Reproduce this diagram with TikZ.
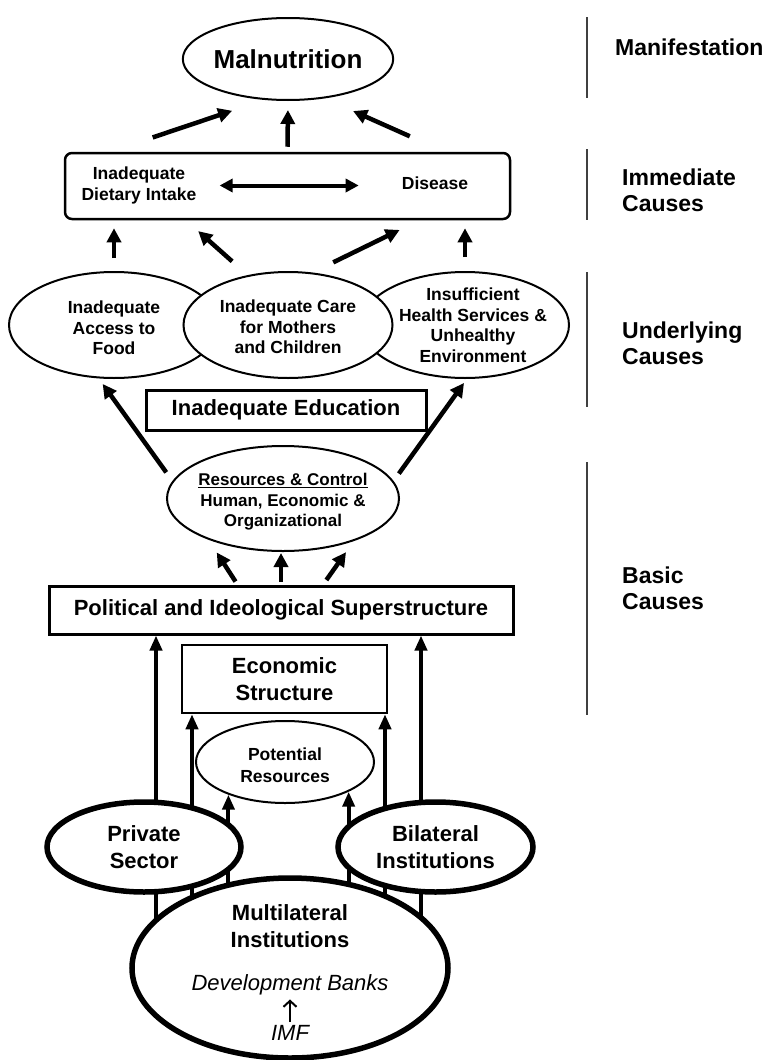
\documentclass[tikz,border=0pt]{standalone}
\usepackage{fontspec}
\setmainfont{Liberation Sans}
\usetikzlibrary{shapes.geometric,arrows.meta,positioning}
\pgfdeclarelayer{bg}
\pgfsetlayers{bg,main}
\tikzset{
  lbl/.style={font=\bfseries\fontsize{17.5}{20.5}\selectfont, align=center, inner sep=0pt},
  biglbl/.style={font=\bfseries\fontsize{22}{27}\selectfont, align=center, inner sep=0pt},
  lvllbl/.style={font=\bfseries\fontsize{23}{26}\selectfont, align=left, anchor=west, inner sep=0pt},
  itlbl/.style={font=\itshape\fontsize{22}{26}\selectfont, inner sep=0pt},
  ellbox/.style={ellipse, draw, fill=white, line width=2pt, inner sep=0pt},
  heavyell/.style={ellipse, draw, fill=white, line width=5.5pt, inner sep=0pt},
  plainbox/.style={rectangle, draw, fill=white, line width=2.5pt, inner sep=0pt},
  arr/.style={line width=4.5pt, -{Triangle[length=14pt,width=14pt]}},
  biarr/.style={line width=4pt, {Triangle[length=13pt,width=13pt]}-{Triangle[length=13pt,width=13pt]}},
  longarr/.style={line width=4pt, -{Triangle[length=15pt,width=12pt]}},
  divider/.style={line width=2pt, black!75},
}
\begin{document}
\begin{tikzpicture}[x=1pt, y=-1pt]
    \useasboundingbox (0,0) rectangle (769,1060);
    % level markers on the right
    \draw[divider] (587,17) -- (587,98);
    \draw[divider] (587,149) -- (587,220);
    \draw[divider] (587,272) -- (587,407);
    \draw[divider] (587,462) -- (587,715);
    \node[lvllbl] (lvlman) at (615,47) {Manifestation};
    \node[lvllbl] (lvlimm) at (622,190) {Immediate\\Causes};
    \node[lvllbl] (lvlund) at (622,343) {Underlying\\Causes};
    \node[lvllbl] (lvlbas) at (622,588) {Basic\\Causes};
    % manifestation and immediate causes
    \node[ellbox, minimum width=184pt, minimum height=82pt, font=\bfseries\fontsize{26}{30}\selectfont] (mal) at (288,59) {Malnutrition};
    \node[plainbox, rounded corners=7pt, minimum width=445pt, minimum height=66pt] (imm) at (287.5,186) {};
    \node[lbl] (diet) at (139,185.5) {Inadequate\\Dietary Intake};
    \node[lbl] (dis) at (435,183) {Disease};
    \draw[biarr] ([xshift=23pt]diet.east) -- ([xshift=-43pt]dis.west |- diet.east);
    \draw[arr, shorten <=45pt, shorten >=34pt] ([xshift=-177.5pt]imm.north) -- (mal.240);
    \draw[arr, shorten <=5pt, shorten >=9pt] (imm.north) -- (mal.south);
    \draw[arr, shorten <=38pt, shorten >=31pt] ([xshift=157pt]imm.north) -- (mal.313);
    % underlying causes
    \node[ellbox, minimum width=210pt, minimum height=106pt] (acc) at (114,325) {};
    \node[lbl] (acctxt) at ([yshift=-3pt]acc.center) {Inadequate\\Access to\\Food};
    \node[ellbox, minimum width=208pt, minimum height=106pt] (hlth) at (465,325) {};
    \node[lbl] (hlthtxt) at ([xshift=8pt]hlth.center) {Insufficient\\Health Services \&\\Unhealthy\\Environment};
    \node[ellbox, minimum width=209pt, minimum height=106pt] (care) at (288,325) {};
    \node[lbl] (caretxt) at ([yshift=-2pt]care.center) {Inadequate Care\\for Mothers\\and Children};
    \node[plainbox, biglbl, line width=3pt, minimum width=280pt, minimum height=40pt] (edu) at (286,410) {Inadequate Education};
    \draw[arr, shorten <=13pt, shorten >=8pt] (acc.north) -- (acc.north |- imm.south);
    \draw[arr, shorten <=20.7pt, shorten >=16.3pt] (care.129) -- ([xshift=-101.5pt]imm.south);
    \draw[arr, shorten <=23.1pt, shorten >=22.1pt] (care.65) -- ([xshift=132pt]imm.south);
    \draw[arr, shorten <=14pt, shorten >=8pt] (hlth.north) -- (hlth.north |- imm.south);
    % basic causes
    \node[ellbox, minimum width=232pt, minimum height=105pt] (res) at (283,498.5) {};
    \node[lbl, font=\bfseries\fontsize{17}{20.5}\selectfont] (restxt) at (283,502) {\underline{Resources \& Control}\\Human, Economic \&\\Organizational};
    \draw[arr, shorten <=10.6pt, shorten >=6.8pt] (res.171) -- (acc.254);
    \draw[arr, shorten <=9.1pt, shorten >=4.9pt] (res.9) -- (hlth.272);
    \node[plainbox, biglbl, line width=3pt, minimum width=464pt, minimum height=48pt] (polit) at (281,610) {Political and Ideological Superstructure};
    \draw[arr, shorten <=3.5pt, shorten >=15.1pt] ([xshift=-43.6pt]polit.north) -- (res.209);
    \draw[arr, shorten <=3pt, shorten >=1pt] (polit.north) -- (polit.north |- res.south);
    \draw[arr, shorten <=5.5pt, shorten >=13.6pt] ([xshift=42.2pt]polit.north) -- (res.329);
    \node[plainbox, biglbl, minimum width=205pt, minimum height=68pt] (econ) at (284.5,679) {Economic\\Structure};
    \node[ellbox, minimum width=178pt, minimum height=82pt] (pot) at (285,762) {};
    \node[lbl, font=\bfseries\fontsize{17.5}{22}\selectfont] (pottxt) at ([yshift=-3pt]pot.center) {Potential\\Resources};
    % outside actors
    \node[heavyell, minimum width=194pt, minimum height=90pt] (priv) at (144,847) {};
    \node[biglbl] (privtxt) at (priv) {Private\\Sector};
    \node[heavyell, minimum width=195pt, minimum height=90pt] (bilat) at (435.5,847) {};
    \node[biglbl] (bilattxt) at (bilat) {Bilateral\\Institutions};
    \node[heavyell, minimum width=316pt, minimum height=180pt] (multi) at (290,968) {};
    \node[biglbl] (multitxt) at (290,926.5) {Multilateral\\Institutions};
    \node[itlbl] (dev) at (290,985) {Development Banks};
    \node[itlbl] (imf) at (290,1033) {IMF};
    \draw[line width=2pt, -{Straight Barb[length=6pt,width=13pt]}, shorten <=3pt, shorten >=4pt] (imf.north) -- (dev.south);
    \coordinate (pl) at ([xshift=-125pt]polit.south);
    \coordinate (pr) at ([xshift=140pt]polit.south);
    \coordinate (el) at ([xshift=-92.5pt]econ.south);
    \coordinate (er) at ([xshift=100.5pt]econ.south);
    \begin{pgfonlayer}{bg}
      \draw[longarr] (pl |- multi.center) -- (pl);
      \draw[longarr] (el |- multi.center) -- (el);
      \draw[longarr] (pot.210 |- multi.center) -- (pot.210);
      \draw[longarr] (pot.335 |- multi.center) -- (pot.335);
      \draw[longarr] (er |- multi.center) -- (er);
      \draw[longarr] (pr |- multi.center) -- (pr);
    \end{pgfonlayer}
\end{tikzpicture}
\end{document}
